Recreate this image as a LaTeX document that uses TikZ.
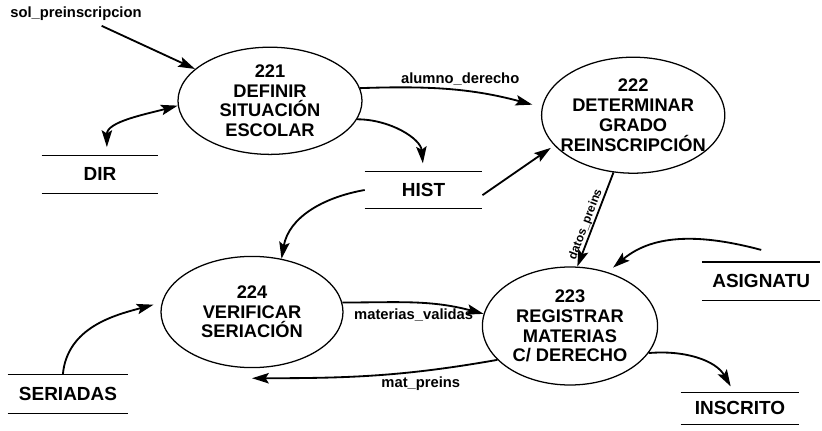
\documentclass[tikz,border=0pt]{standalone}
\usepackage{fontspec}
\setmainfont{Liberation Sans}
\usetikzlibrary{shapes.geometric,arrows.meta}

\begin{document}
\begin{tikzpicture}[>={Stealth[length=4.2mm,width=2.6mm,inset=0.8mm]},
    proc/.style={draw,ellipse,line width=0.9pt,inner sep=-1cm,align=center,font=\fontsize{13}{14}\selectfont\bfseries},
    store/.style={minimum width=2.9cm,minimum height=0.93cm,inner sep=0pt,font=\fontsize{13.5}{14}\selectfont\bfseries},
    flow/.style={->,line width=1.3pt},
    lbl/.style={font=\fontsize{10.5}{12}\selectfont\bfseries}]
    \useasboundingbox (0,0) rectangle (20.55,-10.775);
    % procesos
    \node[proc,minimum width=4.6cm,minimum height=2.68cm] (p221) at (6.75,-2.52) {221\\DEFINIR\\SITUACIÓN\\ESCOLAR};
    \node[proc,minimum width=4.58cm,minimum height=2.9cm] (p222) at (15.83,-2.88) {222\\DETERMINAR\\GRADO\\REINSCRIPCIÓN};
    \node[proc,minimum width=4.38cm,minimum height=2.95cm] (p223) at (14.25,-8.15) {223\\REGISTRAR\\MATERIAS\\C/ DERECHO};
    \node[proc,minimum width=4.55cm,minimum height=2.78cm] (p224) at (6.3,-7.8) {224\\VERIFICAR\\SERIACIÓN};
    % almacenes
    \node[store] (dir) at (2.5,-4.36) {DIR};
    \node[store,minimum width=2.93cm,minimum height=0.9cm] (hist) at (10.59,-4.75) {HIST};
    \node[store,minimum width=2.95cm,minimum height=0.95cm] (asig) at (19.03,-7.03) {ASIGNATU};
    \node[store,minimum width=2.95cm,minimum height=0.78cm] (insc) at (18.5,-10.21) {INSCRITO};
    \node[store,minimum width=3cm,minimum height=0.95cm] (seri) at (1.7,-9.85) {SERIADAS};
    \foreach \s in {dir,hist,asig,insc,seri}
        \draw[line width=0.9pt] (\s.north west) -- (\s.north east) (\s.south west) -- (\s.south east);
    \node[lbl] (sol) at (1.9,-0.35) {sol\_preinscripcion};
    % flujos
    \draw[flow] (sol) -- (p221.157);
    \draw[flow,<->,shorten >=6pt] (p221.183) to[out=195,in=90] (dir.70);
    \draw[flow,shorten >=6pt] (p221.-12) to[out=0,in=95] (hist.north);
    \draw[flow,shorten >=7pt] (p221.8) to[out=2,in=165] node[lbl,above,pos=.55] {alumno\_derecho} (p222.175);
    \draw[flow,shorten >=3pt] (hist.-5) -- (p222.201);
    \draw[flow] (hist.west) to[out=190,in=80] (p224.61);
    \draw[flow] (p222.251) -- node[lbl,font=\fontsize{8.5}{10}\selectfont\bfseries,sloped,above,inner sep=0.5pt,pos=.58] {datos\_preins} (p223.83);
    \draw[flow,shorten >=5pt] ([yshift=0.3cm]asig.north) to[out=165,in=40] (p223.55);
    \draw[flow] (p224.6) to[out=0,in=165] node[lbl,below,pos=.5] {materias\_validas} (p223.172);
    \draw[flow] (p223.205) to[out=190,in=0] node[lbl,below,pos=.3] {mat\_preins} ([yshift=-0.25cm]p224.south);
    \draw[flow,shorten >=6pt] (seri.105) to[out=85,in=195] (p224.174);
    \draw[flow,shorten >=5pt] (p223.-19) to[out=5,in=120] (insc.110);
\end{tikzpicture}
\end{document}
